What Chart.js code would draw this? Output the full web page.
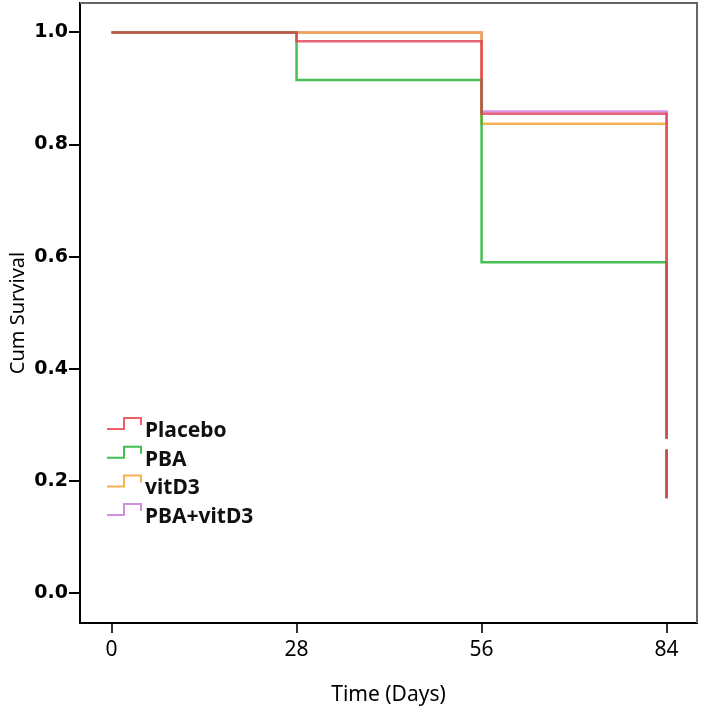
<!DOCTYPE html>
<html>
<head>
<meta charset="utf-8">
<script src="https://cdn.jsdelivr.net/npm/chart.js@4"></script>
<style>
  body { margin: 0; background: #fff; }
  #wrap { width: 702px; height: 711px; }
</style>
</head>
<body>
<div id="wrap"><canvas id="chart"></canvas></div>
<script>
// Kaplan-Meier steps
const days = [0, 28, 56, 84, 84, 84, 84];
const placebo = [1.0, 0.984, 0.855, 0.275, null, 0.256, 0.169];
const pba = [1.0, 0.915, 0.590, 0.275, null, 0.256, 0.169];
const vitD3 = [1.0, 1.0, 0.837, 0.275, null, 0.256, 0.169];
const pbaVitD3 = [1.0, 1.0, 0.859, 0.275, null, 0.256, 0.169];

const groups = ['Placebo', 'PBA', 'vitD3', 'PBA+vitD3'];
const colors = ['rgba(228,60,84,0.8)', 'rgba(40,180,56,0.85)', 'rgba(248,164,56,0.85)', 'rgba(204,128,224,0.85)'];
const legendColors = ['#f06068', '#40c050', '#f8b050', '#d090e0'];

const xTicks = [0, 28, 56, 84];
const yTicks = [0.0, 0.2, 0.4, 0.6, 0.8, 1.0];

const toPoints = (vals) => vals.map((v, i) => ({ x: days[i], y: v }));

const series = [placebo, pba, vitD3, pbaVitD3];
const datasets = series.map((vals, i) => ({
  label: groups[i],
  data: toPoints(vals),
  borderColor: colors[i],
  borderWidth: 2.5,
  stepped: true,
  pointRadius: 0,
  spanGaps: false,
  fill: false
}));

const frame = {
  id: 'frame',
  afterDraw(chart) {
    const { ctx, chartArea: a } = chart;
    ctx.save();
    ctx.strokeStyle = '#666';
    ctx.lineWidth = 2;
    ctx.beginPath();
    ctx.moveTo(a.left, a.top);
    ctx.lineTo(a.right, a.top);
    ctx.lineTo(a.right, a.bottom);
    ctx.stroke();
    ctx.restore();
  }
};

const stepLegend = {
  id: 'stepLegend',
  afterDraw(chart) {
    const { ctx } = chart;
    ctx.save();
    ctx.font = 'bold 21px "Noto Sans"';
    ctx.textBaseline = 'alphabetic';
    ctx.fillStyle = '#111';
    groups.forEach((g, i) => {
      const y = 429 + i * 28.7;
      ctx.strokeStyle = legendColors[i];
      ctx.lineWidth = 2;
      ctx.beginPath();
      ctx.moveTo(107, y);
      ctx.lineTo(124, y);
      ctx.lineTo(124, y - 11);
      ctx.lineTo(141, y - 11);
      ctx.lineTo(141, y - 4);
      ctx.stroke();
      ctx.fillText(g, 145, y + 8);
    });
    ctx.restore();
  }
};

new Chart('chart', {
  type: 'line',
  data: { datasets: datasets },
  options: {
    responsive: true,
    maintainAspectRatio: false,
    animation: false,
    layout: { padding: { top: 3, right: 5, left: 0, bottom: 0 } },
    plugins: { legend: { display: false }, tooltip: { enabled: false } },
    scales: {
      x: {
        type: 'linear',
        min: -4.77,
        max: 88.6,
        afterBuildTicks: (s) => { s.ticks = xTicks.map(v => ({ value: v })); },
        afterFit: (s) => { s.height = 88; s.paddingLeft = 0; s.paddingRight = 0; },
        grid: { drawOnChartArea: false, drawTicks: true, tickLength: 10, color: '#333', lineWidth: 2 },
        border: { color: '#000', width: 2 },
        ticks: { color: '#000', font: { family: 'Noto Sans', size: 21 }, padding: 4, maxRotation: 0, autoSkip: false },
        title: { display: true, text: 'Time (Days)', color: '#000', font: { family: 'Noto Sans', size: 21 }, padding: { top: 3, bottom: 3 } }
      },
      y: {
        min: -0.0535,
        max: 1.0524,
        afterBuildTicks: (s) => { s.ticks = yTicks.map(v => ({ value: v })); },
        afterFit: (s) => { s.width = 80; s.paddingTop = 0; s.paddingBottom = 0; },
        grid: { drawOnChartArea: false, drawTicks: true, tickLength: 11, color: '#000', lineWidth: 2 },
        border: { color: '#000', width: 2 },
        ticks: { color: '#000', font: { family: 'DejaVu Sans', size: 19, weight: 'bold' }, padding: 1, callback: (v) => v.toFixed(1) },
        title: { display: true, text: 'Cum Survival', color: '#000', font: { family: 'Noto Sans', size: 20 }, padding: { top: 6, bottom: 6 } }
      }
    }
  },
  plugins: [frame, stepLegend]
});
</script>
</body>
</html>
